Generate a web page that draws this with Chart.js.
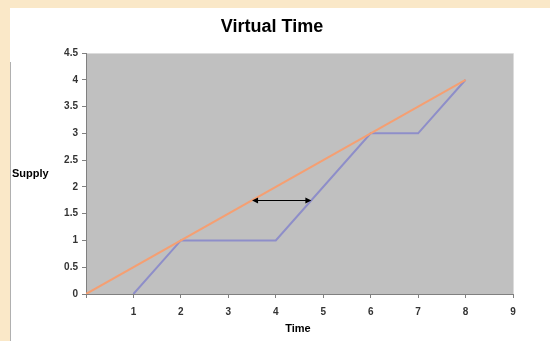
<!DOCTYPE html>
<html>
<head>
<meta charset="utf-8">
<script src="https://cdn.jsdelivr.net/npm/chart.js@4/dist/chart.umd.min.js"></script>
<style>
  html, body { margin: 0; padding: 0; background: #fae8c8; }
  #wrap { width: 550px; height: 341px; position: relative; }
</style>
</head>
<body>
<div id="wrap"><canvas id="c" width="550" height="341"></canvas></div>
<script>
// Supply curves over time
const idealTime   = [0, 8];
const idealSupply = [0, 4];
const actualTime   = [1, 2, 4, 6, 7, 8];
const actualSupply = [0, 1, 1, 3, 3, 4];

// Lag between the two curves at a given supply level
const lagSupply = 1.75;
const lagFrom = 3.5;
const lagTo = 4.75;

const titleText = 'Virtual Time';
const xTitle = 'Time';
const yTitle = 'Supply';

const toPoints = (xs, ys) => xs.map((x, i) => ({ x: x, y: ys[i] }));

const framePlugin = {
  id: 'frame',
  beforeDraw(chart) {
    const ctx = chart.ctx;
    const a = chart.chartArea;
    ctx.save();
    ctx.fillStyle = '#fae8c8';
    ctx.fillRect(0, 0, chart.width, chart.height);
    ctx.fillStyle = '#ffffff';
    ctx.fillRect(10, 8, chart.width - 10, chart.height - 8);
    ctx.strokeStyle = '#b0b0b0';
    ctx.lineWidth = 1;
    ctx.beginPath();
    ctx.moveTo(10.5, 62);
    ctx.lineTo(10.5, chart.height);
    ctx.stroke();
    // plot area
    ctx.fillStyle = '#c0c0c0';
    ctx.fillRect(a.left, a.top, a.right - a.left, a.bottom - a.top);
    ctx.strokeStyle = '#dcdcdc';
    ctx.beginPath();
    ctx.moveTo(a.left, a.top + 0.5);
    ctx.lineTo(a.right + 0.5, a.top + 0.5);
    ctx.lineTo(a.right + 0.5, a.bottom);
    ctx.stroke();
    // titles
    ctx.fillStyle = '#000000';
    ctx.textAlign = 'center';
    ctx.textBaseline = 'alphabetic';
    ctx.font = 'bold 18px "Liberation Sans", Arial, sans-serif';
    ctx.fillText(titleText, 272, 32);
    ctx.font = 'bold 11px "Liberation Sans", Arial, sans-serif';
    ctx.fillText(xTitle, 298, 332);
    ctx.textAlign = 'left';
    ctx.fillText(yTitle, 12, 177);
    ctx.restore();
  },
  afterDatasetsDraw(chart) {
    const ctx = chart.ctx;
    const xs = chart.scales.x, ys = chart.scales.y;
    const x1 = xs.getPixelForValue(lagFrom);
    const x2 = xs.getPixelForValue(lagTo);
    const y = Math.round(ys.getPixelForValue(lagSupply)) + 0.5;
    ctx.save();
    ctx.strokeStyle = '#000000';
    ctx.fillStyle = '#000000';
    ctx.lineWidth = 1;
    ctx.beginPath();
    ctx.moveTo(x1 + 2, y);
    ctx.lineTo(x2 - 2, y);
    ctx.stroke();
    const head = (tip, dir) => {
      ctx.beginPath();
      ctx.moveTo(tip, y);
      ctx.lineTo(tip + dir * 6, y - 3);
      ctx.lineTo(tip + dir * 6, y + 3);
      ctx.closePath();
      ctx.fill();
    };
    head(x1, 1);
    head(x2, -1);
    ctx.restore();
  }
};

new Chart(document.getElementById('c'), {
  type: 'scatter',
  data: {
    datasets: [
      {
        data: toPoints(idealTime, idealSupply),
        showLine: true,
        borderColor: '#f59f72',
        borderWidth: 2,
        pointRadius: 0,
        tension: 0
      },
      {
        data: toPoints(actualTime, actualSupply),
        showLine: true,
        borderColor: '#8e8ec9',
        borderWidth: 2,
        pointRadius: 0,
        tension: 0
      }
    ]
  },
  options: {
    responsive: false,
    animation: false,
    devicePixelRatio: 1,
    layout: { padding: { left: 10, top: 53, right: 37, bottom: 0 } },
    plugins: {
      legend: { display: false },
      title: { display: false },
      tooltip: { enabled: false }
    },
    scales: {
      x: {
        type: 'linear',
        min: 0,
        max: 9,
        afterFit(scale) { scale.height = 47; },
        ticks: {
          stepSize: 1,
          padding: 8,
          color: '#333333',
          font: { family: '"Liberation Sans", Arial, sans-serif', size: 10, weight: 'bold' },
          callback: (v) => (v === 0 ? '' : String(v))
        },
        grid: {
          drawOnChartArea: false,
          drawTicks: true,
          tickLength: 4,
          color: '#808080'
        },
        border: { color: '#808080', width: 1 }
      },
      y: {
        type: 'linear',
        min: 0,
        max: 4.5,
        afterFit(scale) { scale.width = 76; },
        ticks: {
          stepSize: 0.5,
          padding: 4,
          color: '#333333',
          font: { family: '"Liberation Sans", Arial, sans-serif', size: 10, weight: 'bold' },
          callback: (v) => String(Math.round(v * 10) / 10)
        },
        grid: {
          drawOnChartArea: false,
          drawTicks: true,
          tickLength: 4,
          color: '#808080'
        },
        border: { color: '#808080', width: 1 }
      }
    }
  },
  plugins: [framePlugin]
});
</script>
</body>
</html>
